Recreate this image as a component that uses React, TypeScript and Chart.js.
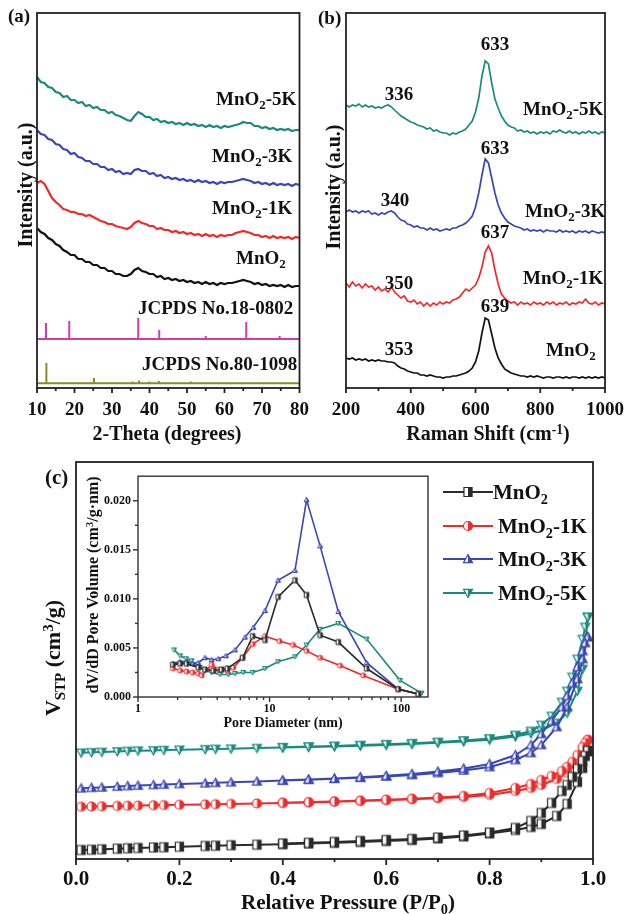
import React, { useEffect, useRef } from 'react';
import { Chart, registerables } from 'chart.js';

Chart.register(...registerables);

const SERIF = '"Liberation Serif", "Times New Roman", serif';

const C_BLACK = '#2b2b2b';
const C_RED = '#ee2a2a';
const C_BLUE = '#3a47b3';
const C_TEAL = '#1a8a7f';
const C_MAGENTA = '#c83cb8';
const C_OLIVE = '#8c8c1e';

// ---------------- (a) XRD ----------------
const xrdTheta = [10, 11, 12, 13, 14, 15, 16, 17, 18, 19, 20, 21, 22, 23, 24, 25, 26, 27, 28, 29, 30, 31, 32, 33, 34, 35, 36, 37, 38, 39, 40, 41, 42, 43, 44, 45, 46, 47, 48, 49, 50, 51, 52, 53, 54, 55, 56, 57, 58, 59, 60, 61, 62, 63, 64, 65, 66, 67, 68, 69, 70, 71, 72, 73, 74, 75, 76, 77, 78, 79, 80];
const xrd5K = [311, 306, 305, 301, 300, 296, 295, 291, 292, 288, 288, 285, 286, 282, 283, 280, 281, 278, 278, 275, 276, 273, 272, 270, 268, 267, 272, 276, 274, 271, 271, 268, 269, 266, 267, 265, 266, 264, 265, 263, 265, 263, 264, 262, 263, 261, 263, 261, 262, 260, 262, 261, 262, 263, 264, 266, 265, 265, 262, 262, 260, 261, 259, 260, 258, 259, 258, 259, 257, 258, 258];
const xrd3K = [258, 254, 253, 249, 248, 244, 243, 239, 238, 234, 235, 231, 230, 227, 227, 224, 224, 221, 221, 218, 219, 216, 217, 214, 215, 214, 218, 219, 217, 217, 214, 215, 212, 213, 210, 211, 209, 210, 208, 209, 207, 208, 206, 208, 206, 207, 205, 206, 204, 206, 205, 206, 206, 207, 208, 209, 208, 207, 205, 206, 204, 205, 203, 205, 203, 204, 203, 204, 202, 204, 203];
const xrd1K = [205, 207, 204, 197, 190, 186, 183, 179, 178, 176, 176, 174, 174, 172, 173, 171, 169, 167, 166, 164, 164, 162, 161, 160, 159, 161, 165, 167, 165, 164, 162, 162, 159, 160, 158, 158, 156, 157, 155, 156, 154, 155, 153, 154, 152, 154, 152, 153, 151, 153, 152, 153, 153, 155, 156, 157, 156, 155, 153, 153, 151, 152, 150, 152, 150, 151, 150, 151, 149, 151, 150];
const xrdMnO2 = [160, 156, 154, 150, 148, 144, 142, 138, 136, 133, 133, 129, 129, 126, 126, 123, 123, 120, 120, 117, 117, 114, 114, 112, 112, 114, 118, 120, 117, 116, 114, 114, 111, 112, 109, 110, 108, 109, 107, 108, 106, 107, 105, 106, 104, 106, 104, 105, 103, 105, 104, 105, 105, 106, 107, 108, 107, 106, 104, 105, 103, 104, 102, 103, 102, 103, 101, 103, 101, 102, 102];
const jcpds18Pos = [12.4, 18.6, 37.0, 42.6, 55.0, 65.8, 74.7];
const jcpds18Top = [65, 67, 70, 58, 52, 66, 52];
const jcpds18Base = 49;
const jcpds80Pos = [12.5, 25.2, 35.5, 37.2, 40.0, 42.5, 51.0];
const jcpds80Top = [25, 10, 6.5, 7.5, 6.5, 7, 6.5];
const jcpds80Base = 4.7;
const xrdTicks = [10, 20, 30, 40, 50, 60, 70, 80];
const xrdMinor = [15, 25, 35, 45, 55, 65, 75];

// ---------------- (b) Raman ----------------
const ramanShift = [200, 210, 220, 230, 240, 250, 260, 270, 280, 290, 300, 310, 320, 330, 340, 350, 360, 370, 380, 390, 400, 410, 420, 430, 440, 450, 460, 470, 480, 490, 500, 510, 520, 530, 540, 550, 560, 570, 580, 590, 600, 610, 620, 630, 640, 650, 660, 670, 680, 690, 700, 710, 720, 730, 740, 750, 760, 770, 780, 790, 800, 810, 820, 830, 840, 850, 860, 870, 880, 890, 900, 910, 920, 930, 940, 950, 960, 970, 980, 990, 1000];
const raman5K = [283, 281, 283, 282, 284, 281, 283, 281, 282, 280, 281, 280, 282, 283, 281, 278, 275, 272, 270, 268, 266, 265, 263, 262, 261, 259, 260, 257, 258, 256, 255, 255, 253, 255, 254, 256, 257, 259, 263, 267, 276, 290, 312, 327, 324, 305, 289, 280, 272, 267, 263, 261, 260, 257, 258, 256, 257, 255, 256, 254, 256, 255, 256, 254, 257, 256, 258, 256, 255, 257, 255, 256, 254, 256, 255, 257, 255, 256, 254, 256, 255];
const raman3K = [176, 178, 176, 177, 175, 177, 176, 177, 174, 175, 173, 175, 174, 176, 177, 175, 171, 168, 167, 164, 163, 161, 162, 160, 160, 158, 160, 158, 159, 157, 158, 159, 158, 160, 160, 162, 163, 165, 168, 172, 181, 195, 213, 229, 225, 210, 195, 183, 175, 170, 166, 164, 162, 161, 160, 158, 159, 157, 158, 157, 158, 156, 158, 157, 157, 156, 158, 156, 157, 156, 157, 155, 157, 156, 157, 155, 157, 156, 155, 156, 155];
const raman1K = [105, 101, 106, 102, 104, 100, 104, 101, 102, 98, 101, 97, 99, 96, 101, 96, 93, 90, 92, 87, 86, 88, 84, 86, 82, 85, 82, 85, 83, 86, 84, 86, 85, 88, 89, 91, 95, 99, 97, 100, 103, 110, 121, 136, 142, 135, 118, 104, 94, 90, 87, 85, 86, 83, 86, 84, 85, 83, 86, 84, 85, 83, 86, 84, 86, 83, 85, 84, 86, 83, 85, 84, 86, 85, 89, 85, 84, 86, 83, 85, 84];
const ramanMnO2 = [30, 29, 30, 28, 29, 28, 29, 27, 28, 27, 28, 27, 27, 26, 26, 25, 22, 20, 19, 17, 16, 15, 15, 13, 13, 12, 13, 12, 11, 11, 10, 11, 11, 12, 12, 13, 14, 15, 17, 20, 26, 37, 55, 70, 68, 54, 40, 30, 24, 19, 17, 15, 14, 13, 12, 12, 11, 12, 11, 12, 11, 10, 11, 11, 10, 11, 11, 10, 11, 10, 11, 11, 10, 11, 10, 11, 10, 11, 10, 11, 10];
const ramanTicks = [200, 400, 600, 800, 1000];
const ramanMinor = [300, 500, 700, 900];

// ---------------- (c) N2 isotherms ----------------
const isoAdsP = [0.01, 0.03, 0.05, 0.08, 0.10, 0.12, 0.15, 0.17, 0.20, 0.25, 0.27, 0.30, 0.35, 0.40, 0.45, 0.50, 0.55, 0.60, 0.65, 0.70, 0.75, 0.80, 0.85, 0.88, 0.90, 0.93, 0.95, 0.97, 0.98, 0.99];
const isoDesP = [0.99, 0.985, 0.98, 0.97, 0.96, 0.95, 0.94, 0.92, 0.90, 0.88, 0.85, 0.80, 0.75, 0.70, 0.65, 0.60, 0.55, 0.50, 0.45, 0.40];
const isoMnO2Ads = [9.0, 9.3, 9.7, 10.3, 10.7, 11.0, 11.5, 11.8, 12.3, 13.0, 13.3, 13.8, 14.3, 14.8, 15.5, 16.2, 17.0, 18.0, 19.0, 20.5, 22.5, 25.5, 29.0, 32.0, 35.0, 43.0, 55.0, 77.0, 91.0, 108.0];
const isoMnO2Des = [108, 103, 98, 90, 82, 74, 68, 56, 46, 38, 31, 26.5, 23.5, 21.5, 20, 19, 18, 17, 16.2, 15.5];
const iso1KAds = [52.3, 52.5, 52.7, 53.0, 53.2, 53.4, 53.7, 53.9, 54.2, 54.6, 54.8, 55.1, 55.5, 56.0, 56.5, 57.2, 58.0, 58.8, 59.8, 60.8, 62.0, 64.0, 68.0, 71.0, 74.0, 80.0, 86.0, 97.0, 106.0, 119.0];
const iso1KDes = [119, 116, 112, 104, 97, 92, 88, 83, 79, 75, 71, 66, 63, 61.5, 60.3, 59.3, 58.4, 57.6, 56.9, 56.3];
const iso3KAds = [70.7, 71.2, 71.6, 72.4, 73.0, 73.4, 74.0, 74.4, 75.0, 75.8, 76.2, 76.8, 77.6, 78.4, 79.2, 80.2, 81.3, 82.5, 84.0, 86.0, 88.5, 92.0, 99.0, 106.0, 114.0, 132.0, 152.0, 180.0, 200.0, 222.0];
const iso3KDes = [222, 216, 208, 192, 176, 163, 152, 138, 125, 114, 104, 95, 90.5, 87.5, 85, 83.2, 81.8, 80.6, 79.6, 78.7];
const iso5KAds = [106.3, 106.7, 107.0, 107.5, 108.0, 108.3, 108.6, 108.9, 109.2, 109.7, 110.0, 110.3, 110.9, 111.4, 112.0, 112.6, 113.3, 114.0, 115.0, 116.3, 117.6, 119.3, 122.5, 125.5, 128.5, 136.0, 146.0, 168.0, 190.0, 242.0];
const iso5KDes = [242, 232, 220, 200, 182, 168, 157, 143, 134, 128, 124, 120.5, 118.5, 117, 115.8, 114.8, 113.9, 113.1, 112.4, 111.8];
const isoTicks = [0, 0.2, 0.4, 0.6, 0.8, 1.0];
const isoMinor = [0.1, 0.3, 0.5, 0.7, 0.9];

// ---------------- (c) inset pore size distribution ----------------
const poreMnO2D = [1.84, 2.09, 2.34, 2.87, 3.23, 3.73, 4.32, 4.77, 6.24, 7.44, 9.23, 11.6, 15.6, 19.1, 24.2, 33.3, 54.7, 95, 135];
const poreMnO2V = [0.0033, 0.0034, 0.0034, 0.0030, 0.0028, 0.0027, 0.0028, 0.0029, 0.0040, 0.0062, 0.0058, 0.0102, 0.0119, 0.0104, 0.0063, 0.0056, 0.0029, 0.0008, 0.0003];
const pore1KD = [1.84, 2.09, 2.34, 2.6, 2.87, 3.05, 3.63, 4.08, 4.77, 5.3, 6.24, 7.44, 9.23, 11.9, 15.1, 19.1, 24.2, 34.3, 51.5, 95, 135];
const pore1KV = [0.0029, 0.0027, 0.0026, 0.0025, 0.0024, 0.0022, 0.0033, 0.0028, 0.0027, 0.0030, 0.0040, 0.0054, 0.0062, 0.0057, 0.0053, 0.0047, 0.0040, 0.0032, 0.0022, 0.0008, 0.0003];
const pore3KD = [1.84, 2.09, 2.34, 2.6, 2.87, 3.23, 3.63, 4.08, 4.66, 5.46, 6.5, 7.52, 9.23, 11.6, 15.6, 19.1, 24.2, 33.3, 54.7, 95, 135];
const pore3KV = [0.0034, 0.0036, 0.0036, 0.0034, 0.0035, 0.0040, 0.0038, 0.0039, 0.0042, 0.0048, 0.0061, 0.0071, 0.0088, 0.0119, 0.0129, 0.0201, 0.0154, 0.0087, 0.0035, 0.0008, 0.0003];
const pore5KD = [1.88, 2.09, 2.32, 2.56, 2.71, 2.96, 3.23, 3.63, 4.2, 4.86, 5.46, 6.31, 7.44, 9.23, 11.6, 15.6, 19.1, 24.2, 33.3, 54.7, 97.9, 143];
const pore5KV = [0.0048, 0.0042, 0.0039, 0.0037, 0.0033, 0.0030, 0.0027, 0.0025, 0.0023, 0.0023, 0.0024, 0.0025, 0.0025, 0.0029, 0.0036, 0.0041, 0.0053, 0.0069, 0.0075, 0.0059, 0.0017, 0.0004];
const poreTicks = [1, 10, 100];
const poreMinor = [2, 3, 4, 5, 6, 7, 8, 9, 20, 30, 40, 50, 60, 70, 80, 90];
const psdTicks = [0, 0.005, 0.010, 0.015, 0.020];
const psdMinor = [0.0025, 0.0075, 0.0125, 0.0175];

// ---------------- helpers ----------------
const xy = (xs: number[], ys: number[]) => xs.map((x, i) => ({ x, y: ys[i] }));

function stickPoints(pos: number[], tops: number[], base: number, xmin: number, xmax: number) {
  const pts: { x: number; y: number }[] = [{ x: xmin, y: base }];
  pos.forEach((p, i) => {
    pts.push({ x: p, y: base }, { x: p, y: tops[i] }, { x: p, y: base });
  });
  pts.push({ x: xmax, y: base });
  return pts;
}

function shapePath(g: any, shape: string, cx: number, cy: number, r: number, half: boolean) {
  g.beginPath();
  if (shape === 'rect') {
    const w = r * 0.9;
    if (half) g.rect(cx, cy - r, w, 2 * r);
    else g.rect(cx - w, cy - r, 2 * w, 2 * r);
  } else if (shape === 'circle') {
    if (half) { g.moveTo(cx, cy - r); g.arc(cx, cy, r, -Math.PI / 2, Math.PI / 2); g.closePath(); }
    else g.arc(cx, cy, r, 0, Math.PI * 2);
  } else if (shape === 'up') {
    g.moveTo(cx, cy - r);
    g.lineTo(cx + r, cy + r * 0.8);
    if (half) g.lineTo(cx, cy + r * 0.8);
    else g.lineTo(cx - r, cy + r * 0.8);
    g.closePath();
  } else {
    g.moveTo(cx, cy + r);
    g.lineTo(cx + r, cy - r * 0.8);
    if (half) g.lineTo(cx, cy - r * 0.8);
    else g.lineTo(cx - r, cy - r * 0.8);
    g.closePath();
  }
}

function makeMarker(shape: string, color: string, size: number, lw: number) {
  const c = document.createElement('canvas');
  c.width = size + 4;
  c.height = size + 4;
  const g = c.getContext('2d') as any;
  const cx = c.width / 2, cy = c.height / 2, r = size / 2;
  shapePath(g, shape, cx, cy, r, false);
  g.fillStyle = '#fff';
  g.fill();
  shapePath(g, shape, cx, cy, r, true);
  g.fillStyle = color;
  g.fill();
  shapePath(g, shape, cx, cy, r, false);
  g.strokeStyle = color;
  g.lineWidth = lw;
  g.stroke();
  return c;
}

const frameTicks = {
  id: 'frameTicks',
  afterDraw(chart: any, _args: any, o: any) {
    const { ctx, chartArea: a } = chart;
    const xs = chart.scales.x;
    const ys = chart.scales.y;
    ctx.save();
    ctx.strokeStyle = o.color || '#222';
    ctx.lineWidth = o.lineWidth || 1.5;
    const draw = (vals: any, len: number, axis: string) => {
      if (!vals) return;
      for (let i = 0; i < vals.length; i++) {
        const v = vals[i];
        ctx.beginPath();
        if (axis === 'x') {
          const p = xs.getPixelForValue(v);
          ctx.moveTo(p, a.bottom);
          ctx.lineTo(p, a.bottom + len);
        } else {
          const p = ys.getPixelForValue(v);
          ctx.moveTo(a.left, p);
          ctx.lineTo(a.left - len, p);
        }
        ctx.stroke();
      }
    };
    draw(o.xMajor, o.majorLen, 'x');
    draw(o.xMinor, o.minorLen, 'x');
    draw(o.yMajor, o.majorLen, 'y');
    draw(o.yMinor, o.minorLen, 'y');
    ctx.strokeRect(a.left, a.top, a.right - a.left, a.bottom - a.top);
    ctx.restore();
  },
};

function xAxis(type: string, min: number, max: number, ticks: number[], size: number, pad: number, height: number, fmt: (v: number) => string) {
  return {
    type,
    min,
    max,
    grid: { display: false, drawTicks: false },
    border: { display: false },
    afterBuildTicks: (s: any) => { s.ticks = ticks.map((v) => ({ value: v })); },
    afterFit: (s: any) => { s.height = height; },
    ticks: {
      autoSkip: false,
      maxRotation: 0,
      minRotation: 0,
      padding: pad,
      color: '#111',
      font: { family: SERIF, size, weight: 'bold' },
      callback: (v: any) => fmt(Number(v)),
    },
  };
}

function baseOptions(padding: any, scales: any, frame: any) {
  return {
    responsive: false,
    maintainAspectRatio: false,
    animation: false,
    devicePixelRatio: 1,
    events: [],
    layout: { padding },
    plugins: { legend: { display: false }, tooltip: { enabled: false }, frameTicks: frame },
    scales,
  };
}

const lineDs = (data: any, color: string, width: number, extra: any = {}) => ({
  data,
  borderColor: color,
  backgroundColor: color,
  borderWidth: width,
  pointRadius: 0,
  tension: 0,
  fill: false,
  ...extra,
});

function makeXrd() {
  return {
    type: 'line',
    data: {
      datasets: [
        lineDs(xy(xrdTheta, xrd5K), C_TEAL, 2.2),
        lineDs(xy(xrdTheta, xrd3K), C_BLUE, 2.2),
        lineDs(xy(xrdTheta, xrd1K), C_RED, 2.2),
        lineDs(xy(xrdTheta, xrdMnO2), '#111', 2.2),
        lineDs(stickPoints(jcpds18Pos, jcpds18Top, jcpds18Base, 10, 80), C_MAGENTA, 2),
        lineDs(stickPoints(jcpds80Pos, jcpds80Top, jcpds80Base, 10, 80), C_OLIVE, 2),
      ],
    },
    options: baseOptions(
      { left: 37, top: 13, right: 14, bottom: 12 },
      {
        x: xAxis('linear', 10, 80, xrdTicks, 19, 11, 30, (v) => String(v)),
        y: { display: false, min: 0, max: 375 },
      },
      { xMajor: xrdTicks, xMinor: xrdMinor, majorLen: 5, minorLen: 3, lineWidth: 1.8, color: '#222' }
    ),
    plugins: [frameTicks],
  };
}

function makeRaman() {
  return {
    type: 'line',
    data: {
      datasets: [
        lineDs(xy(ramanShift, raman5K), C_TEAL, 1.7),
        lineDs(xy(ramanShift, raman3K), C_BLUE, 1.7),
        lineDs(xy(ramanShift, raman1K), C_RED, 1.7),
        lineDs(xy(ramanShift, ramanMnO2), '#111', 1.7),
      ],
    },
    options: baseOptions(
      { left: 31, top: 13, right: 21, bottom: 12 },
      {
        x: xAxis('linear', 200, 1000, ramanTicks, 19, 11, 30, (v) => String(v)),
        y: { display: false, min: 0, max: 375 },
      },
      { xMajor: ramanTicks, xMinor: ramanMinor, majorLen: 5, minorLen: 3, lineWidth: 1.8, color: '#222' }
    ),
    plugins: [frameTicks],
  };
}

function makeIso() {
  const series = [
    [isoMnO2Ads, isoMnO2Des, C_BLACK, 'rect'],
    [iso1KAds, iso1KDes, C_RED, 'circle'],
    [iso3KAds, iso3KDes, C_BLUE, 'up'],
    [iso5KAds, iso5KDes, C_TEAL, 'down'],
  ] as any[];
  return {
    type: 'line',
    data: {
      datasets: series.map(([ads, des, col, shape]) =>
        lineDs([...xy(isoAdsP, ads), ...xy(isoDesP, des)], col, 2, {
          pointRadius: 4,
          pointStyle: makeMarker(shape, col, 9, 1.2),
        })
      ),
    },
    options: baseOptions(
      { left: 76, top: 22, right: 42, bottom: 15 },
      {
        x: xAxis('linear', 0, 1, isoTicks, 21, 8, 40, (v) => v.toFixed(1)),
        y: { display: false, min: 0, max: 397 },
      },
      { xMajor: isoTicks, xMinor: isoMinor, majorLen: 6, minorLen: 3, lineWidth: 1.8, color: '#222' }
    ),
    plugins: [frameTicks],
  };
}

function makeInset() {
  const series = [
    [poreMnO2D, poreMnO2V, C_BLACK, 'rect'],
    [pore1KD, pore1KV, C_RED, 'circle'],
    [pore3KD, pore3KV, C_BLUE, 'up'],
    [pore5KD, pore5KV, C_TEAL, 'down'],
  ] as any[];
  return {
    type: 'line',
    data: {
      datasets: series.map(([d, v, col, shape]) =>
        lineDs(xy(d, v), col, 1.6, { pointRadius: 3, pointStyle: makeMarker(shape, col, 5, 1) })
      ),
    },
    options: baseOptions(
      { left: 0, top: 11, right: 22, bottom: 15 },
      {
        x: xAxis('logarithmic', 1, 160, poreTicks, 12, 5, 30, (v) => String(v)),
        y: {
          type: 'linear',
          min: 0,
          max: 0.0225,
          grid: { display: false, drawTicks: false },
          border: { display: false },
          afterBuildTicks: (s: any) => { s.ticks = psdTicks.map((v) => ({ value: v })); },
          afterFit: (s: any) => { s.width = 78; },
          ticks: {
            padding: 7,
            color: '#111',
            font: { family: SERIF, size: 12, weight: 'bold' },
            callback: (v: any) => Number(v).toFixed(3),
          },
        },
      },
      {
        xMajor: poreTicks, xMinor: poreMinor, yMajor: psdTicks, yMinor: psdMinor,
        majorLen: 5, minorLen: 3, lineWidth: 1.4, color: '#333',
      }
    ),
    plugins: [frameTicks],
  };
}

function ChartBox({ left, top, width, height, make }: any) {
  const ref = useRef<HTMLCanvasElement>(null);
  useEffect(() => {
    const chart = new Chart(ref.current as any, make());
    return () => chart.destroy();
  }, []);
  return (
    <canvas
      ref={ref}
      width={width}
      height={height}
      style={{ position: 'absolute', left, top, width, height }}
    />
  );
}

const Sub = ({ c }: any) => (
  <span style={{ fontSize: '0.68em', position: 'relative', top: '0.32em' }}>{c}</span>
);
const Sup = ({ c }: any) => (
  <span style={{ fontSize: '0.68em', position: 'relative', top: '-0.45em' }}>{c}</span>
);
const MnO2 = ({ s = '' }: any) => (
  <>
    MnO<Sub c="2" />
    {s}
  </>
);

function T({ x, y, size = 19, align = 'left', rotate = false, children }: any) {
  let tf = 'translateY(-50%)';
  if (align === 'center') tf = 'translate(-50%,-50%)';
  if (align === 'right') tf = 'translate(-100%,-50%)';
  if (rotate) tf = 'translate(-50%,-50%) rotate(-90deg)';
  return (
    <div
      style={{
        position: 'absolute',
        left: x,
        top: y,
        fontSize: size,
        fontWeight: 'bold',
        lineHeight: 1,
        whiteSpace: 'nowrap',
        transform: tf,
        color: '#111',
      }}
    >
      {children}
    </div>
  );
}

function svgShape(shape: string, cx: number, cy: number, r: number, half: boolean) {
  if (shape === 'rect') {
    const w = r * 0.9;
    return half ? `M${cx},${cy - r}h${w}v${2 * r}h${-w}Z` : `M${cx - w},${cy - r}h${2 * w}v${2 * r}h${-2 * w}Z`;
  }
  if (shape === 'circle') {
    return half
      ? `M${cx},${cy - r}A${r},${r} 0 0 1 ${cx},${cy + r}Z`
      : `M${cx - r},${cy}A${r},${r} 0 1 1 ${cx + r},${cy}A${r},${r} 0 1 1 ${cx - r},${cy}Z`;
  }
  if (shape === 'up') {
    return half
      ? `M${cx},${cy - r}L${cx + r},${cy + r * 0.8}L${cx},${cy + r * 0.8}Z`
      : `M${cx},${cy - r}L${cx + r},${cy + r * 0.8}L${cx - r},${cy + r * 0.8}Z`;
  }
  return half
    ? `M${cx},${cy + r}L${cx + r},${cy - r * 0.8}L${cx},${cy - r * 0.8}Z`
    : `M${cx},${cy + r}L${cx + r},${cy - r * 0.8}L${cx - r},${cy - r * 0.8}Z`;
}

function LegendRow({ y, color, shape, textX, children }: any) {
  return (
    <>
      <svg width={50} height={16} style={{ position: 'absolute', left: 443, top: y - 8 }}>
        <line x1={0} y1={8} x2={50} y2={8} stroke={color} strokeWidth={2} />
        <path d={svgShape(shape, 25, 8, 4.5, false)} fill="#fff" />
        <path d={svgShape(shape, 25, 8, 4.5, true)} fill={color} />
        <path d={svgShape(shape, 25, 8, 4.5, false)} fill="none" stroke={color} strokeWidth={1.2} />
      </svg>
      <T x={textX} y={y} size={21}>
        {children}
      </T>
    </>
  );
}

export default function App() {
  return (
    <div
      style={{
        position: 'absolute',
        left: 0,
        top: 0,
        width: 635,
        height: 914,
        background: '#fff',
        fontFamily: SERIF,
        overflow: 'hidden',
      }}
    >
      <ChartBox left={0} top={0} width={320} height={430} make={makeXrd} />
      <ChartBox left={315} top={0} width={320} height={430} make={makeRaman} />
      <ChartBox left={0} top={440} width={635} height={474} make={makeIso} />
      <ChartBox left={60} top={462} width={390} height={280} make={makeInset} />

      {/* (a) */}
      <T x={8} y={15} size={19}>(a)</T>
      <T x={216} y={98}><MnO2 s="-5K" /></T>
      <T x={212} y={155}><MnO2 s="-3K" /></T>
      <T x={212} y={207}><MnO2 s="-1K" /></T>
      <T x={236} y={257}><MnO2 /></T>
      <T x={138} y={307}>JCPDS No.18-0802</T>
      <T x={142} y={363}>JCPDS No.80-1098</T>
      <T x={25} y={185} size={20} rotate>Intensity (a.u.)</T>
      <T x={167} y={433} size={20} align="center">2-Theta (degrees)</T>

      {/* (b) */}
      <T x={318} y={17} size={19}>(b)</T>
      <T x={495} y={43} align="center">633</T>
      <T x={399} y={93} align="center">336</T>
      <T x={523} y={108}><MnO2 s="-5K" /></T>
      <T x={495} y={147} align="center">633</T>
      <T x={395} y={199} align="center">340</T>
      <T x={525} y={210}><MnO2 s="-3K" /></T>
      <T x={495} y={231} align="center">637</T>
      <T x={399} y={282} align="center">350</T>
      <T x={523} y={277}><MnO2 s="-1K" /></T>
      <T x={495} y={305} align="center">639</T>
      <T x={399} y={348} align="center">353</T>
      <T x={546} y={349}><MnO2 /></T>
      <T x={333} y={187} size={20} rotate>Intensity (a.u.)</T>
      <T x={488} y={433} size={20} align="center">
        Raman Shift (cm<Sup c="-1" />)
      </T>

      {/* (c) */}
      <T x={45} y={477} size={21}>(c)</T>
      <T x={53} y={658} size={22} rotate>
        V<Sub c="STP" /> (cm<Sup c="3" />/g)
      </T>
      <T x={348} y={902} size={21} align="center">
        Relative Pressure (P/P<Sub c="0" />)
      </T>
      <T x={93} y={585} size={16} rotate>
        dV/dD Pore Volume (cm<Sup c="3" />/g·nm)
      </T>
      <T x={283} y={723} size={14} align="center">Pore Diameter (nm)</T>

      <LegendRow y={492} color={C_BLACK} shape="rect" textX={493}><MnO2 /></LegendRow>
      <LegendRow y={526} color={C_RED} shape="circle" textX={498}><MnO2 s="-1K" /></LegendRow>
      <LegendRow y={559} color={C_BLUE} shape="up" textX={498}><MnO2 s="-3K" /></LegendRow>
      <LegendRow y={593} color={C_TEAL} shape="down" textX={498}><MnO2 s="-5K" /></LegendRow>
    </div>
  );
}
